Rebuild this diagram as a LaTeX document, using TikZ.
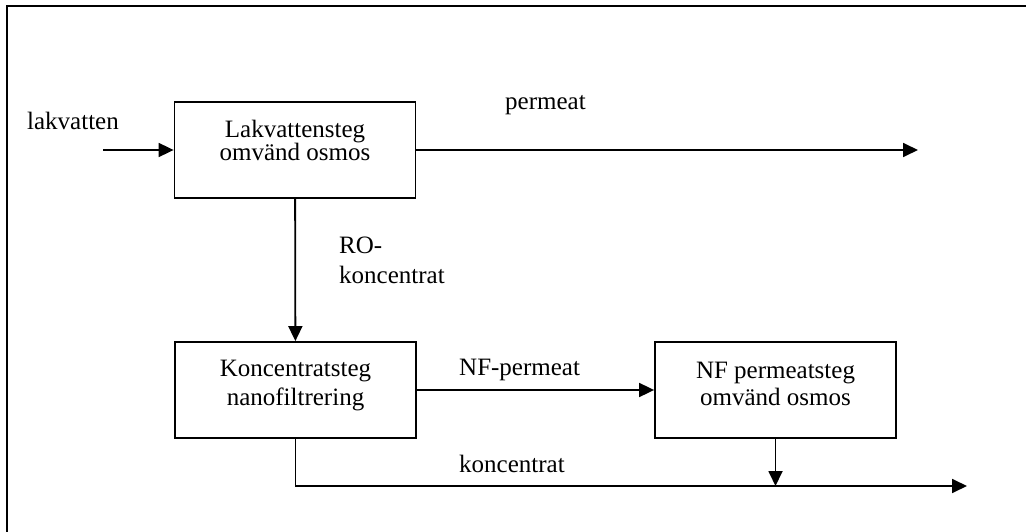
\documentclass[tikz,border=0pt]{standalone}
\usepackage{fontspec}
\setmainfont{Liberation Serif}
\usetikzlibrary{arrows.meta}
\begin{document}
\begin{tikzpicture}[x=1pt,y=-1pt,
  box/.style={draw, line width=1.8pt, minimum width=241pt, minimum height=96pt, inner sep=0pt},
  lbl/.style={font=\fontsize{25}{28}\selectfont, inner sep=0pt},
  boxtext/.style={lbl, align=center, anchor=north},
  flow/.style={line width=1.8pt, -{Triangle[length=15pt,width=14pt]}}]
\useasboundingbox (0,0) rectangle (1026,532);
\draw[line width=2pt] (7,532) -- (7,6) -- (1026,6);
% boxes
\node[box] (b1) at (295,150) {};
\node[box] (b2) at (295.5,390) {};
\node[box] (b3) at (775.5,390) {};
% box texts
\node[boxtext, font=\fontsize{25}{23}\selectfont] (t1) at (295,120) {Lakvattensteg\\omvänd osmos};
\node[boxtext, font=\fontsize{25}{29}\selectfont] (t2) at (295.5,360) {Koncentratsteg\\nanofiltrering};
\node[boxtext, font=\fontsize{25}{27}\selectfont] (t3) at (775.5,362) {NF permeatsteg\\omvänd osmos};
% free ends
\coordinate (in) at (103,150);
\coordinate (pout) at (918,150);
\coordinate (kout) at (967,486);
% connectors
\draw[flow] (in) -- (b1);
\draw[flow] (b1) -- (pout);
\draw[flow] (b1) -- (b2);
\draw[flow] (b2) -- (b3);
\draw[flow] (b2.south) -- (b2.south |- kout) -- (kout);
\draw[flow] (b3.south) -- (b3.south |- kout);
% labels
\node[lbl, anchor=base] (llak) at (73,130) {lakvatten};
\node[lbl, anchor=base west] (lperm) at (505,110) {permeat};
\node[lbl, align=left, anchor=north west, font=\fontsize{25}{30}\selectfont] (lro) at (339,237) {RO-\\koncentrat};
\node[lbl, anchor=base west] (lnf) at (459,375) {NF-permeat};
\node[lbl, anchor=base west] (lkonc) at (459,472) {koncentrat};
\end{tikzpicture}
\end{document}
